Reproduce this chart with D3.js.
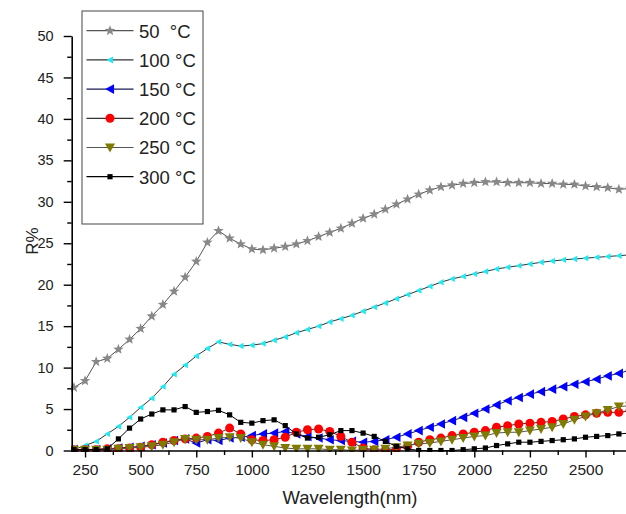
<!DOCTYPE html>
<html>
<head>
<meta charset="utf-8">
<script src="https://cdn.jsdelivr.net/npm/d3@7"></script>
<style>
  html, body { margin: 0; padding: 0; background: #fff; }
  svg { display: block; font-family: "Liberation Sans", Arial, sans-serif; }
</style>
</head>
<body>
<svg id="chart" width="626" height="514"></svg>
<script>
// ---- Data ----
const wavelengths = [200,250,300,350,400,450,500,550,600,650,700,750,800,850,900,950,1000,1050,1100,1150,1200,1250,1300,1350,1400,1450,1500,1550,1600,1650,1700,1750,1800,1850,1900,1950,2000,2050,2100,2150,2200,2250,2300,2350,2400,2450,2500,2550,2600,2650,2700];

const r50 = [7.6,8.4,10.7,11.1,12.2,13.4,14.7,16.2,17.6,19.2,20.9,22.8,25.1,26.5,25.6,24.9,24.3,24.2,24.4,24.6,24.9,25.3,25.8,26.3,26.8,27.4,28.0,28.5,29.1,29.7,30.3,30.9,31.4,31.8,32.0,32.2,32.3,32.4,32.4,32.3,32.3,32.3,32.2,32.2,32.1,32.1,31.9,31.8,31.7,31.5,31.6];
const r100 = [0.1,0.6,1.1,2.0,2.9,4.0,5.2,6.3,7.7,9.2,10.3,11.4,12.3,13.1,12.8,12.6,12.7,12.9,13.3,13.7,14.2,14.6,15.0,15.5,15.9,16.3,16.8,17.3,17.8,18.3,18.8,19.3,19.8,20.3,20.7,21.0,21.3,21.6,21.9,22.1,22.3,22.5,22.7,22.85,23.0,23.1,23.2,23.3,23.4,23.5,23.6];
const r150 = [0.1,0.1,0.1,0.2,0.3,0.4,0.5,0.7,0.9,1.2,1.4,0.9,1.3,1.2,1.5,1.6,1.8,2.0,2.1,2.3,2.0,1.7,1.5,1.3,1.2,1.1,1.0,1.1,1.3,1.6,2.0,2.4,2.8,3.2,3.6,4.0,4.5,5.0,5.5,6.0,6.4,6.8,7.1,7.4,7.7,8.0,8.3,8.6,9.0,9.3,9.7];
const r200 = [0.1,0.1,0.1,0.2,0.2,0.3,0.4,0.7,1.0,1.2,1.4,1.5,1.7,2.1,2.7,2.0,1.3,1.2,1.3,1.6,2.2,2.5,2.6,2.3,1.7,1.0,0.3,0.1,0.0,0.2,0.5,1.0,1.3,1.5,1.8,2.0,2.2,2.4,2.8,3.0,3.2,3.3,3.4,3.5,3.8,4.1,4.3,4.5,4.6,4.6,4.8];
const r250 = [0.1,0.1,0.1,0.1,0.2,0.3,0.4,0.5,0.7,1.0,1.4,1.3,1.3,1.5,1.6,1.5,1.0,0.7,0.5,0.3,0.2,0.2,0.2,0.1,0.1,0.0,0.1,0.1,0.2,0.4,0.6,0.8,0.9,1.1,1.3,1.5,1.7,1.8,2.1,2.2,2.2,2.4,2.6,2.8,3.2,3.7,4.1,4.5,4.9,5.3,5.4];
const r300 = [0.1,0.1,0.1,0.2,1.4,2.7,3.8,4.4,4.9,4.9,5.3,4.6,4.7,4.85,4.3,3.4,3.3,3.6,3.7,3.0,2.0,1.5,1.6,1.9,2.4,2.4,2.1,1.7,1.1,0.5,0.2,0.0,0.0,0.0,0.0,0.1,0.2,0.3,0.6,0.8,1.0,1.0,1.1,1.2,1.3,1.4,1.6,1.7,1.8,2.0,2.1];

const seriesNames = ["50  \u00B0C","100 \u00B0C","150 \u00B0C","200 \u00B0C","250 \u00B0C","300 \u00B0C"];
const seriesValues = [r50, r100, r150, r200, r250, r300];

const xTicks = [250,500,750,1000,1250,1500,1750,2000,2250,2500];
const yTicks = [0,5,10,15,20,25,30,35,40,45,50];

// ---- Styles ----
const styles = [
  {shape:"star",   fill:"#888888", line:"#555555", s:5.5},
  {shape:"tleft",  fill:"#22e8f2", line:"#333333", s:3.2},
  {shape:"tleft",  fill:"#0000ff", line:"#1a1a55", s:4.8},
  {shape:"circle", fill:"#ff0000", line:"#333333", s:4.5},
  {shape:"tdown",  fill:"#7f7a00", line:"#555555", s:5.0},
  {shape:"square", fill:"#000000", line:"#000000", s:2.6}
];

function shapePath(shape, s) {
  if (shape === "circle") {
    return `M${s},0A${s},${s},0,1,1,${-s},0A${s},${s},0,1,1,${s},0Z`;
  }
  if (shape === "square") {
    return `M${-s},${-s}H${s}V${s}H${-s}Z`;
  }
  if (shape === "tleft") {
    return `M${-s},0L${s*0.85},${-s}L${s*0.85},${s}Z`;
  }
  if (shape === "tdown") {
    return `M0,${s}L${-s},${-s*0.8}L${s},${-s*0.8}Z`;
  }
  if (shape === "star") {
    const pts = [];
    const ri = s * 0.42;
    for (let i = 0; i < 10; i++) {
      const r = i % 2 === 0 ? s : ri;
      const a = -Math.PI/2 + i * Math.PI / 5;
      pts.push([r*Math.cos(a), r*Math.sin(a)]);
    }
    return "M" + pts.map(p => p[0].toFixed(2)+","+p[1].toFixed(2)).join("L") + "Z";
  }
}

// ---- Scales ----
const svg = d3.select("#chart");
const x = d3.scaleLinear().domain([190, 2700]).range([71.7, 630]);
const y = d3.scaleLinear().domain([0, 50]).range([450.5, 36]);

const plot = svg.append("g");
svg.append("defs").append("clipPath").attr("id","clip")
  .append("rect").attr("x", 71).attr("y", 20).attr("width", 560).attr("height", 432);

const dataG = plot.append("g").attr("clip-path","url(#clip)");

const line = d3.line().x(d => x(d[0])).y(d => y(d[1]));

seriesValues.forEach((vals, i) => {
  const st = styles[i];
  const pts = wavelengths.map((w, j) => [w, vals[j]]);
  const g = dataG.append("g");
  g.append("path").datum(pts).attr("d", line)
    .attr("fill","none").attr("stroke", st.line).attr("stroke-width", 1);
  g.selectAll("path.m").data(pts).enter().append("path").attr("class","m")
    .attr("transform", d => `translate(${x(d[0])},${y(d[1])})`)
    .attr("d", shapePath(st.shape, st.s))
    .attr("fill", st.fill);
});

// ---- Axes ----
const xMinor = d3.range(375, 2700, 250);
const yMinor = d3.range(2.5, 50, 5);

const xAxis = d3.axisBottom(x).tickValues(xTicks).tickFormat(d3.format("d"))
  .tickSize(7).tickSizeOuter(0).tickPadding(6);
const xAxisG = svg.append("g").attr("transform", `translate(0,${y(0)})`).call(xAxis);
xAxisG.select(".domain").attr("stroke","#000").attr("stroke-width",1.6);
xAxisG.selectAll(".tick line").attr("stroke","#000").attr("stroke-width",1.4);
xAxisG.selectAll(".tick text").attr("font-size","15.5px").attr("fill","#222")
  .attr("font-family",'"Liberation Sans", Arial, sans-serif');
const xMinorG = svg.append("g").attr("transform", `translate(0,${y(0)})`)
  .call(d3.axisBottom(x).tickValues(xMinor).tickSize(4.5).tickFormat(""));
xMinorG.select(".domain").remove();
xMinorG.selectAll(".tick line").attr("stroke","#000").attr("stroke-width",1.4);

const yAxis = d3.axisLeft(y).tickValues(yTicks).tickFormat(d3.format("d"))
  .tickSize(8).tickSizeOuter(0).tickPadding(10);
const yAxisG = svg.append("g").attr("transform", `translate(${x(190)},0)`).call(yAxis);
yAxisG.select(".domain").attr("stroke","#000").attr("stroke-width",1.6);
yAxisG.selectAll(".tick line").attr("stroke","#000").attr("stroke-width",1.4);
yAxisG.selectAll(".tick text").attr("font-size","14.5px").attr("fill","#222")
  .attr("font-family",'"Liberation Sans", Arial, sans-serif');
const yMinorG = svg.append("g").attr("transform", `translate(${x(190)},0)`)
  .call(d3.axisLeft(y).tickValues(yMinor).tickSize(4.5).tickFormat(""));
yMinorG.select(".domain").remove();
yMinorG.selectAll(".tick line").attr("stroke","#000").attr("stroke-width",1.4);

// ---- Axis titles ----
svg.append("text").attr("x", 350).attr("y", 504).attr("text-anchor","middle")
  .attr("font-size","18.5px").attr("fill","#222").text("Wavelength(nm)");
svg.append("text").attr("transform","translate(38,241) rotate(-90)").attr("text-anchor","middle")
  .attr("font-size","17px").attr("fill","#222").text("R%");

// ---- Legend ----
const lg = svg.append("g");
lg.append("rect").attr("x", 82).attr("y", 11).attr("width", 121).attr("height", 213)
  .attr("fill","#fff").attr("stroke","#444").attr("stroke-width",1);
seriesNames.forEach((name, i) => {
  const st = styles[i];
  const cy = 30.7 + i * 29.2;
  lg.append("line").attr("x1", 86.5).attr("x2", 133.5).attr("y1", cy).attr("y2", cy)
    .attr("stroke", st.line).attr("stroke-width", 1.2);
  lg.append("path").attr("transform", `translate(110,${cy})`)
    .attr("d", shapePath(st.shape, st.shape === "tleft" && i === 1 ? 3.5 : st.s))
    .attr("fill", st.fill);
  lg.append("text").attr("x", 139).attr("y", cy + 6.8)
    .attr("font-size","18.5px").attr("fill","#222").attr("xml:space","preserve")
    .style("white-space","pre").text(name);
});
</script>
</body>
</html>
